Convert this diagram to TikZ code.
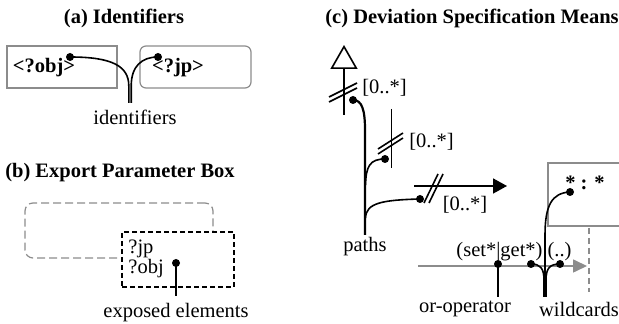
\documentclass[tikz,border=0pt]{standalone}
\usepackage{fontspec}
\setmainfont{Liberation Serif}
\usetikzlibrary{positioning, arrows.meta, calc}

\tikzset{
  conn/.style={line width=0.8pt},
  pin/.style={circle, fill, inner sep=0pt, minimum size=4pt},
  graybox/.style={draw=black!45, line width=0.6pt},
  heading/.style={font=\bfseries},
  lbl/.style={inner sep=0pt},
}

\begin{document}
\fontsize{10.25}{12.3}\selectfont
\begin{tikzpicture}[x=0.5pt, y=-0.5pt]
    \clip (0,0) rectangle (619,324);

    % ; (a) identifiers ;
    \node[heading] (ttla) at (124,18) {(a) Identifiers};
    \node[graybox, minimum width=55pt, minimum height=21pt] (objbox) at (62,67) {};
    \node[graybox, rounded corners=3pt, minimum width=55.5pt, minimum height=21pt] (jpbox) at (195.5,67) {};
    \node[lbl, font=\bfseries] (objtxt) at (44,68) {<?obj>};
    \node[lbl, font=\bfseries] (jptxt) at (178,68) {<?jp>};
    \node[pin] (objpin) at (70,57) {};
    \node[pin] (jppin) at (158,57) {};
    \coordinate (idfootl) at (128.8,103);
    \coordinate (idfootr) at (131.2,103);
    \node (idlbl) at (135,117) {identifiers};
    \draw[conn] (objpin.center) .. controls (112,57) and (128.8,66) .. (128.8,86) -- (idfootl);
    \draw[conn] (jppin.center) .. controls (142,57) and (131.2,66) .. (131.2,86) -- (idfootr);

    % ; (b) export parameter box ;
    \node[heading] (ttlb) at (120,173) {(b) Export Parameter Box};
    \node[graybox, dashed, dash pattern=on 4pt off 2pt, rounded corners=4pt,
          minimum width=94pt, minimum height=27.5pt] (outerbox) at (119,230.5) {};
    \node[draw, fill=white, line width=1pt, dash pattern=on 2.5pt off 1.5pt,
          minimum width=56pt, minimum height=27.5pt] (expbox) at (178,259.5) {};
    \node[lbl, anchor=west] (jpexp) at (128,249) {?jp};
    \node[lbl, anchor=west] (objexp) at (128,269) {?obj};
    \node[pin] (exppin) at (176,263) {};
    \node (explbl) at (176,313) {exposed elements};
    \draw[conn] (exppin.center) -- (explbl.north);

    % ; (c) deviation specification means ;
    \node[heading] (ttlc) at (472,18) {(c) Deviation Specification Means};

    % inheritance-like path with open head
    \coordinate (upfoot) at (344,115);
    \coordinate (uptip) at (344,45);
    \draw[conn, -{Triangle[open, length=12pt, width=13.5pt]}] (upfoot) -- (uptip);
    \draw[conn] (329,97) -- (357,83);
    \draw[conn] (329,102) -- (357,88);
    \node[lbl, anchor=west] (multa) at (362,88) {[0..*]};

    % second path segment
    \coordinate (midtop) at (391.5,109);
    \coordinate (midfoot) at (391.5,168);
    \draw[conn] (midtop) -- (midfoot);
    \draw[conn] (378,149) -- (403,133);
    \draw[conn] (378,154) -- (403,138);
    \node[lbl, anchor=west] (multb) at (409,142) {[0..*]};

    % horizontal arrow segment
    \coordinate (rgtstart) at (414,186);
    \coordinate (rgttip) at (507,186);
    \draw[conn, -{Triangle[length=7pt, width=7.5pt]}] (rgtstart) -- (rgttip);
    \draw[conn] (424,203) -- (438,174);
    \draw[conn] (429,203) -- (443,174);
    \node (multc) at (465,205) {[0..*]};

    % pins joined into the paths stem
    \node[pin] (pina) at (353,100) {};
    \node[pin] (pinb) at (385,159) {};
    \node[pin] (pinc) at (420,199) {};
    \coordinate (pathfoot) at (365,235);
    \node (pathlbl) at (365,247) {paths};
    \draw[line width=1.1pt] (pina.center) .. controls (362,100) and (365,110) .. (365,130) -- (pathfoot);
    \draw[conn] (pinb.center) .. controls (370,159) and (366,166) .. (365.5,185);
    \draw[conn] (pinc.center) .. controls (382,200) and (366,203) .. (365.5,218);

    % wildcard box and timeline
    \node[graybox, minimum width=60pt, minimum height=31.5pt] (wildbox) at (608,194.5) {};
    \node[lbl, font=\bfseries] (wildtxt) at (585,183) {* : *};
    \coordinate (dashtop) at (589,228);
    \coordinate (dashfoot) at (589,292);
    \draw[black!45, line width=0.6pt, dashed, dash pattern=on 3pt off 2pt] (dashtop) -- (dashfoot);
    \coordinate (tlstart) at (418,266);
    \coordinate (tltip) at (587,266);
    \draw[black!45, line width=0.8pt, -{Triangle[length=7pt, width=6.5pt]}] (tlstart) -- (tltip);
    \node[lbl] (exprtxt) at (514,252) {(set*|get*) (..)};

    \node[pin] (orpin) at (498,264) {};
    \node[pin] (wpina) at (531,264) {};
    \node[pin] (wpinb) at (560,264) {};
    \node[pin] (wpinc) at (570,192) {};
    \coordinate (orfoot) at (498,297);
    \coordinate (wfoot) at (545,297);
    \node (orlbl) at (465,309) {or-operator};
    \node (wildlbl) at (579,309) {wildcards};
    \draw[conn] (orpin.center) -- (orfoot);
    \draw[conn] (wpina.center) .. controls (540,264) and (544,268) .. (544,280) -- (544,297);
    \draw[conn] (wpinb.center) .. controls (550,264) and (546,268) .. (546,280) -- (546,297);
    \draw[conn] (wpinc.center) .. controls (552,193) and (545,205) .. (545,235) -- (wfoot);
\end{tikzpicture}
\end{document}
